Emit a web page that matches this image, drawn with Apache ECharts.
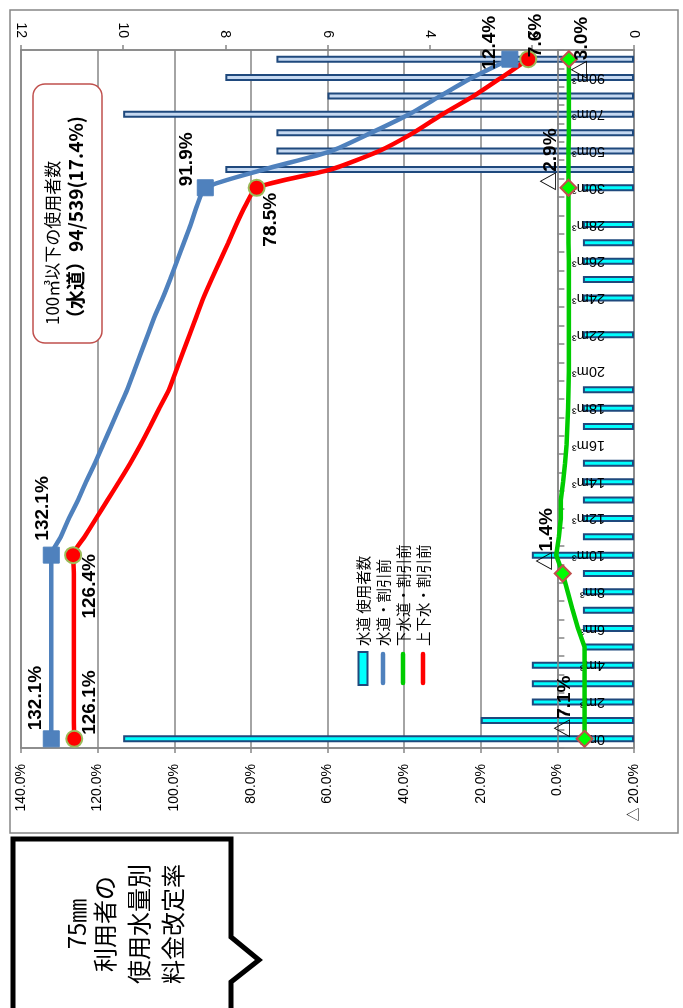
<!DOCTYPE html>
<html>
<head>
<meta charset="utf-8">
<script src="https://cdn.jsdelivr.net/npm/echarts@6/dist/echarts.min.js"></script>
<style>
  html, body { margin: 0; padding: 0; background: #ffffff; }
  #chart { width: 683px; height: 1008px; }
</style>
</head>
<body>
<div id="chart"></div>
<script>
// Monthly water use bands (m³)
const categories = ['0m³','1m³','2m³','3m³','4m³','5m³','6m³','7m³','8m³','9m³','10m³',
  '11m³','12m³','13m³','14m³','15m³','16m³','17m³','18m³','19m³','20m³',
  '21m³','22m³','23m³','24m³','25m³','26m³','27m³','28m³','29m³','30m³',
  '40m³','50m³','60m³','70m³','80m³','90m³','100m³'];

// 水道 使用者数 (number of users per band)
const userCounts = [10,3,2,2,2,1,1,1,1,1,2,1,1,1,1,1,0,1,1,1,0,0,1,0,1,1,1,1,1,0,1,
  8,7,7,10,6,8,7];

// 水道・割引前 (%)
const waterRate = [132.1,132.1,132.1,132.1,132.1,132.1,132.1,132.1,132.1,132.1,132.1,
  129.6,127.5,125.1,123.0,120.7,118.6,116.5,114.4,112.3,110.5,
  108.7,106.9,105.1,103.0,101.1,99.3,97.5,95.7,94.1,91.9,
  76.5,59.0,48.5,38.7,30.5,22.2,12.4];

// 下水道・割引前 (%)
const sewerRate = [-7.1,-7.1,-7.1,-7.1,-7.1,-7.1,-5.4,-4.0,-2.7,-1.4,0.3,
  -0.4,-0.9,-0.9,-1.5,-2.0,-2.4,-2.6,-2.8,-2.9,-3.0,
  -3.0,-3.0,-3.0,-3.0,-3.0,-3.0,-2.9,-2.9,-2.9,-2.9,
  -2.9,-2.9,-3.0,-3.0,-3.0,-3.0,-3.0];

// 上下水・割引前 (%)
const combinedRate = [126.1,126.2,126.2,126.2,126.2,126.2,126.2,126.2,126.2,126.2,126.4,
  123.4,120.4,117.4,114.4,111.5,108.8,106.3,103.9,101.4,99.6,
  97.8,96.0,94.2,92.4,90.3,88.1,85.9,83.8,81.5,78.5,
  59.0,46.5,37.5,30.0,21.8,14.6,7.6];

// Points that carry a marker and a value label: index -> [dx, dy, align] of the label anchor
const waterMarks    = {0: [-15, -8, 'left'], 10: [-8, -14, 'left'], 30: [-18, -1, 'left'], 37: [-20, 11, 'left']};
const combinedMarks = {0: [16.5, -3, 'left'], 10: [17.5, 0, 'right'], 30: [15.5, 6, 'right'], 37: [9, -1, 'left']};
const sewerMarks    = {0: [-18.5, 0, 'left'], 9: [-15, -2, 'left'], 30: [-17, 4, 'left'], 37: [14, 21, 'left']};

const LATIN = '"Liberation Sans", "Noto Sans CJK JP", sans-serif';
const JP = '"Noto Sans CJK JP", "Noto Sans", sans-serif';
const GRID_GRAY = '#868686';
const SYMBOL = 16;

function pct(v) {
  return (v < 0 ? '△' + Math.abs(v).toFixed(1) : v.toFixed(1)) + '%';
}

function lineData(values, marks) {
  return values.map(function (v, i) {
    const m = marks[i];
    if (!m) return { value: v, symbol: 'none' };
    return {
      value: v,
      label: {
        show: true,
        position: [SYMBOL / 2 + m[0], SYMBOL / 2 + m[1]],
        align: m[2],
        verticalAlign: 'middle',
        rotate: 90
      }
    };
  });
}

// bands above 30m³ are shaded lighter; empty bands get no outline
const barData = userCounts.map(function (v, i) {
  return {
    value: v,
    itemStyle: { color: i > 30 ? '#C6D9F1' : '#00FFFF', borderWidth: v === 0 ? 0 : 2 }
  };
});

const valueLabel = {
  show: false,
  fontFamily: LATIN,
  fontSize: 19,
  fontWeight: 'bold',
  color: '#000000',
  formatter: function (p) { return pct(p.value); }
};

function vText(x, y, text, size, weight, align) {
  return {
    type: 'text', x: x, y: y, rotation: Math.PI / 2, z: 20,
    style: {
      text: text, fill: '#000000', fontFamily: JP, fontSize: size, fontWeight: weight || 'normal',
      align: align || 'left', textAlign: align || 'left',
      verticalAlign: 'middle', textVerticalAlign: 'middle'
    }
  };
}

const legendNames = ['水道 使用者数', '水道・割引前', '下水道・割引前', '上下水・割引前'];
const legendColors = [null, '#4F81BD', '#00CC00', '#FF0000'];

const graphics = [
  // outer chart frame
  { type: 'rect', z: 1, shape: { x: 10, y: 10, width: 668, height: 823 },
    style: { fill: 'none', stroke: GRID_GRAY, lineWidth: 1.5 } },
  // note box
  { type: 'rect', z: 19, shape: { x: 33, y: 84, width: 69, height: 259, r: 12 },
    style: { fill: '#ffffff', stroke: '#C0504D', lineWidth: 1.5 } },
  vText(53, 325, '100㎥以下の使用者数', 17, 'normal'),
  vText(76, 328, '（水道）94/539(17.4%)', 19, 'bold'),
  // title callout
  { type: 'polygon', z: 19,
    shape: { points: [[13, 839], [231, 839], [231, 937], [259, 960], [231, 982], [231, 1015], [13, 1015]] },
    style: { fill: '#ffffff', stroke: '#000000', lineWidth: 5, lineJoin: 'miter' } },
  vText(77, 924, '75㎜', 24, 'normal', 'center'),
  vText(105, 924, '利用者の', 24, 'normal', 'center'),
  vText(139, 924, '使用水量別', 24, 'normal', 'center'),
  vText(173, 924, '料金改定率', 24, 'normal', 'center')
];

// legend
legendNames.forEach(function (name, i) {
  const cx = 363 + 20 * i;
  if (i === 0) {
    graphics.push({ type: 'rect', z: 20, shape: { x: cx - 4.5, y: 652, width: 9, height: 33 },
      style: { fill: '#00FFFF', stroke: '#1F497D', lineWidth: 2 } });
  } else {
    graphics.push({ type: 'line', z: 20, shape: { x1: cx, y1: 654, x2: cx, y2: 683 },
      style: { stroke: legendColors[i], lineWidth: 4.5, lineCap: 'round' } });
  }
  graphics.push(vText(cx, 646, name, 14.5, 'normal'));
});

const chart = echarts.init(document.getElementById('chart'), null, { renderer: 'canvas' });

chart.setOption({
  animation: false,
  backgroundColor: '#ffffff',
  textStyle: { fontFamily: LATIN },
  grid: {
    left: 21, right: 49, top: 50, bottom: 260,
    show: true, borderColor: GRID_GRAY, borderWidth: 1.5, backgroundColor: 'transparent',
    outerBoundsMode: 'none'
  },
  xAxis: [
    {
      type: 'value', position: 'top', inverse: true, min: 0, max: 12, interval: 2,
      axisLine: { show: true, lineStyle: { color: GRID_GRAY, width: 1.5 } },
      axisTick: { show: true, length: 5, lineStyle: { color: GRID_GRAY, width: 1.5 } },
      axisLabel: { rotate: 90, margin: 12, fontSize: 14, color: '#000000', fontFamily: LATIN },
      splitLine: { show: false }
    },
    {
      type: 'value', position: 'bottom', inverse: true, min: -20, max: 140, interval: 20,
      axisLine: { show: true, lineStyle: { color: GRID_GRAY, width: 1.5 } },
      axisTick: { show: true, length: 5, lineStyle: { color: GRID_GRAY, width: 1.5 } },
      axisLabel: {
        rotate: 90, margin: 16, fontSize: 14, color: '#000000', fontFamily: LATIN,
        formatter: function (v) { return v < 0 ? '△ ' + Math.abs(v).toFixed(1) + '%' : v.toFixed(1) + '%'; }
      },
      splitLine: { show: true, lineStyle: { color: GRID_GRAY, width: 1.5 } }
    }
  ],
  yAxis: [
    {
      // band labels, written inside the plot next to the bar baseline
      type: 'category', data: categories, position: 'right', z: 2,
      axisLine: { show: false, onZero: false },
      axisTick: { show: false },
      axisLabel: { inside: true, interval: 1, rotate: 180, margin: 29, fontSize: 14.5, color: '#000000', fontFamily: LATIN },
      splitLine: { show: false }
    },
    {
      // band axis crossing the rate axis at 0%
      type: 'category', data: categories, position: 'right', z: 2,
      axisLine: { show: true, onZero: true, onZeroAxisIndex: 1, lineStyle: { color: GRID_GRAY, width: 1.5 } },
      axisTick: { show: true, interval: 0, length: 7, lineStyle: { color: GRID_GRAY, width: 1.5 } },
      axisLabel: { show: false },
      splitLine: { show: false }
    }
  ],
  series: [
    {
      name: '水道 使用者数', type: 'bar', xAxisIndex: 0, yAxisIndex: 0, z: 1,
      barWidth: 7, data: barData,
      itemStyle: { borderColor: '#1F497D', borderWidth: 2 }
    },
    {
      name: '水道・割引前', type: 'line', xAxisIndex: 1, yAxisIndex: 1, z: 4,
      data: lineData(waterRate, waterMarks), smooth: 0.2,
      showAllSymbol: true, symbol: 'rect', symbolSize: SYMBOL,
      lineStyle: { color: '#4F81BD', width: 4.5 },
      itemStyle: { color: '#4F81BD', borderColor: '#4F81BD', borderWidth: 1 },
      label: valueLabel
    },
    {
      name: '下水道・割引前', type: 'line', xAxisIndex: 1, yAxisIndex: 1, z: 4,
      data: lineData(sewerRate, sewerMarks),
      showAllSymbol: true, symbol: 'diamond', symbolSize: SYMBOL,
      lineStyle: { color: '#00CC00', width: 4.5 },
      itemStyle: { color: '#00FF00', borderColor: '#C0504D', borderWidth: 2 },
      label: valueLabel
    },
    {
      name: '上下水・割引前', type: 'line', xAxisIndex: 1, yAxisIndex: 1, z: 4,
      data: lineData(combinedRate, combinedMarks), smooth: 0.2,
      showAllSymbol: true, symbol: 'circle', symbolSize: SYMBOL,
      lineStyle: { color: '#FF0000', width: 4.5 },
      itemStyle: { color: '#FF0000', borderColor: '#9BBB59', borderWidth: 2 },
      label: valueLabel
    }
  ],
  graphic: { elements: graphics }
});
</script>
</body>
</html>
